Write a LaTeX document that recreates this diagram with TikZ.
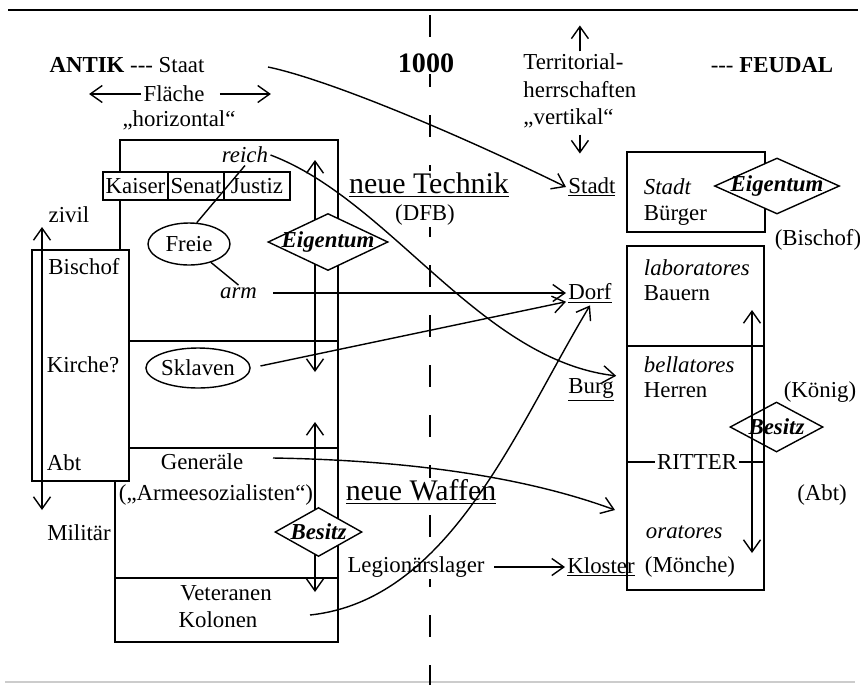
\documentclass[tikz,border=0pt]{standalone}
\usepackage{fontspec}
\setmainfont{Liberation Serif}
\usetikzlibrary{shapes.geometric,arrows.meta}

\begin{document}
\begin{tikzpicture}[
    >={Straight Barb[length=2.4mm,width=3.4mm]},
    line width=0.8pt,
    lbl/.style={inner sep=1pt, font=\fontsize{13}{15.6}\selectfont},
    itl/.style={inner sep=1pt, font=\fontsize{13}{15.6}\selectfont\itshape},
    big/.style={inner sep=1pt, fill=white, font=\fontsize{17}{20}\selectfont},
    cell/.style={draw, lbl, minimum height=0.56cm},
    blob/.style={draw, ellipse, lbl, inner sep=0pt},
    rhomb/.style={draw, diamond, inner sep=0pt},
    rhombtext/.style={inner sep=1pt, font=\fontsize{13}{15.6}\selectfont\bfseries\itshape},
    cutline/.style={dash pattern=on 0.44cm off 0.56cm}
  ]

      % Frame
      \useasboundingbox (0,0) rectangle (17.2,-13.7);
      \coordinate (topL) at (0.16,-0.2);
      \coordinate (topR) at (17.16,-0.2);
      \coordinate (botL) at (0.1,-13.64);
      \coordinate (botR) at (17.1,-13.64);
      \coordinate (cutT) at (8.6,-0.3);
      \coordinate (cutB) at (8.6,-13.7);
      \draw[line width=1.1pt] (topL) -- (topR);
      \draw[gray!40] (botL) -- (botR);
      \draw[cutline] (cutT) -- (cutB);

      % Headings
      \node[lbl] (antik) at (2.54,-1.30) {\textbf{ANTIK} -{}-{}- Staat};
      \node[lbl] (flaeche) at (3.48,-1.88) {Fläche};
      \node[lbl] (horiz) at (3.58,-2.40) {„horizontal“};
      \node[lbl, fill=white, font=\fontsize{16}{19}\selectfont\bfseries] (year) at (8.52,-1.26) {1000};
      \node[lbl, anchor=west, align=left] (territ) at (10.42,-1.82) {Territorial-\\herrschaften\\„vertikal“};
      \node[lbl] (feudal) at (15.44,-1.30) {-{}-{}- \textbf{FEUDAL}};
      \coordinate (flL) at ([xshift=-1.04cm]flaeche.west);
      \coordinate (flR) at ([xshift=1.28cm]flaeche.east);
      \coordinate (terrUp) at ([yshift=0.52cm]territ.north);
      \coordinate (terrDn) at ([yshift=-0.46cm]territ.south);
      \draw[->] (flaeche.west) -- (flL);
      \draw[->, shorten <=0.26cm] (flaeche.east) -- (flR);
      \draw[->] (territ.north) -- (terrUp);
      \draw[->, shorten <=0.08cm] (territ.south) -- (terrDn);

      % Antike block
      \draw (2.40,-3.44) -- (2.40,-2.80) -- (6.76,-2.80) -- (6.76,-12.84) -- (2.30,-12.84) -- (2.30,-9.62);
      \draw (2.40,-4.00) -- (2.40,-5.00);
      \draw (0.64,-5.00) rectangle (2.58,-9.62);
      \draw (2.58,-6.82) -- (6.76,-6.82);
      \draw (2.58,-8.96) -- (6.76,-8.96);
      \draw (2.30,-11.56) -- (6.76,-11.56);

      \node[cell, minimum width=1.30cm] (kaiser) at (2.71,-3.72) {Kaiser};
      \node[cell, minimum width=1.12cm] (senat) at (3.92,-3.72) {Senat};
      \node[cell, minimum width=1.32cm] (justiz) at (5.14,-3.72) {Justiz};

      \node[lbl] (zivil) at (1.38,-4.30) {zivil};
      \node[lbl] (bischof) at (1.68,-5.34) {Bischof};
      \node[lbl] (kirche) at (1.66,-7.30) {Kirche?};
      \node[lbl] (abt) at (1.28,-9.26) {Abt};
      \node[lbl] (militaer) at (1.58,-10.66) {Militär};
      \coordinate (zivilTip) at (0.84,-4.54);
      \coordinate (militTip) at (0.84,-10.20);
      \draw[<->] (zivilTip) -- (militTip);

      \node[itl] (reich) at (4.90,-3.10) {reich};
      \node[blob, minimum width=1.64cm, minimum height=0.84cm] (freie) at (3.78,-4.88) {Freie};
      \node[itl] (arm) at (4.77,-5.86) {arm};
      \node[blob, minimum width=2.0cm, minimum height=0.8cm] (sklaven) at (3.96,-7.36) {Sklaven};
      \node[lbl] (generaele) at (4.04,-9.24) {Generäle};
      \node[lbl] (armee) at (4.32,-9.90) {(„Armeesozialisten“)};
      \node[lbl] (veteranen) at (4.52,-11.86) {Veteranen};
      \node[lbl] (kolonen) at (4.36,-12.40) {Kolonen};
      \draw (reich.south) -- (freie.70);
      \draw (freie.-40) -- (arm.north);

      % Property arrows
      \coordinate (eigAtop) at (6.30,-3.20);
      \coordinate (eigAbot) at (6.30,-7.44);
      \coordinate (besAtop) at (6.30,-8.44);
      \coordinate (besAbot) at (6.30,-11.84);
      \draw[<->] (eigAtop) -- (eigAbot);
      \draw[<->] (besAtop) -- (besAbot);
      \node[rhomb, fill=white, minimum width=2.4cm, minimum height=1.14cm] (eigA) at (6.56,-4.84) {};
      \node[rhombtext] (eigAtext) at (eigA) {Eigentum};
      \node[rhomb, fill=white, minimum width=1.74cm, minimum height=0.98cm] (besA) at (6.37,-10.64) {};
      \node[rhombtext] (besAtext) at (besA) {Besitz};

      % Middle
      \node[big] (technik) at (8.58,-3.70) {\underline{neue Technik}};
      \node[lbl, fill=white] (dfb) at (8.50,-4.30) {(DFB)};
      \node[big] (waffen) at (8.42,-9.84) {\underline{neue Waffen}};
      \node[lbl, fill=white] (legion) at (8.32,-11.34) {Legionärslager};

      \node[lbl, anchor=west] (stadt) at (11.32,-3.74) {\underline{Stadt}};
      \node[lbl, anchor=west] (dorf) at (11.32,-5.86) {\underline{Dorf}};
      \node[lbl, anchor=west] (burg) at (11.32,-7.80) {\underline{Burg}};
      \node[lbl, anchor=west] (kloster) at (11.30,-11.34) {\underline{Kloster}};
      \node[lbl] (moenche) at (13.80,-11.34) {(Mönche)};

      % Feudal block
      \node[draw, minimum width=2.76cm, minimum height=1.60cm] (stadtbox) at (13.92,-3.84) {};
      \node[draw, minimum width=2.74cm, minimum height=6.88cm] (feudbox) at (13.91,-8.36) {};
      \coordinate (split) at (13.91,-6.92);
      \draw (feudbox.west |- split) -- (feudbox.east |- split);

      \node[itl, anchor=west] (stadtit) at (12.83,-3.74) {Stadt};
      \node[lbl, anchor=west] (buerger) at (12.83,-4.30) {Bürger};
      \node[itl, anchor=west] (labor) at (12.83,-5.36) {laboratores};
      \node[lbl, anchor=west] (bauern) at (12.83,-5.86) {Bauern};
      \node[itl, anchor=west] (bellat) at (12.83,-7.30) {bellatores};
      \node[lbl, anchor=west] (herren) at (12.83,-7.80) {Herren};
      \node[itl, anchor=west] (orat) at (12.87,-10.64) {oratores};
      \node[lbl] (ritter) at (13.94,-9.24) {RITTER};
      \draw (feudbox.west |- ritter) -- (ritter.west);
      \draw (ritter.east) -- (feudbox.east |- ritter);

      \node[lbl] (bischofR) at (16.36,-4.80) {(Bischof)};
      \node[lbl] (koenig) at (16.40,-7.84) {(König)};
      \node[lbl] (abtR) at (16.44,-9.90) {(Abt)};

      \coordinate (besBtop) at (15.04,-6.20);
      \coordinate (besBbot) at (15.04,-11.06);
      \draw[<->] (besBtop) -- (besBbot);
      \node[rhomb, fill=white, minimum width=2.5cm, minimum height=1.12cm] (eigB) at (15.54,-3.72) {};
      \node[rhombtext] (eigBtext) at (eigB) {Eigentum};
      \node[rhomb, minimum width=1.86cm, minimum height=1.0cm] (besB) at (15.53,-8.54) {};
      \node[rhombtext] (besBtext) at (besB) {Besitz};

      % Transitions
      \coordinate (staatEnd) at (5.36,-1.34);
      \coordinate (genEnd) at (5.46,-9.16);
      \coordinate (kolEnd) at (6.20,-12.30);
      \coordinate (klosterIn) at (12.30,-10.20);
      \draw[->] (staatEnd) .. controls (6.6,-1.60) and (9.2,-2.70) .. (stadt.west);
      \draw[->] (reich.east) .. controls (7.8,-4.0) and (9.6,-7.2) .. (burg.north east);
      \draw[->, shorten <=0.28cm] (arm.east) -- (dorf.west);
      \draw[->, shorten <=0.2cm] (sklaven.east) -- (dorf.200);
      \draw[->] (kolEnd) .. controls (9.0,-12.0) and (10.3,-8.6) .. (dorf.south);
      \draw[->] (genEnd) .. controls (8.0,-9.2) and (10.4,-9.5) .. (klosterIn);
      \draw[->, shorten <=0.15cm] (legion.east) -- (kloster.west);

    \end{tikzpicture}
\end{document}
